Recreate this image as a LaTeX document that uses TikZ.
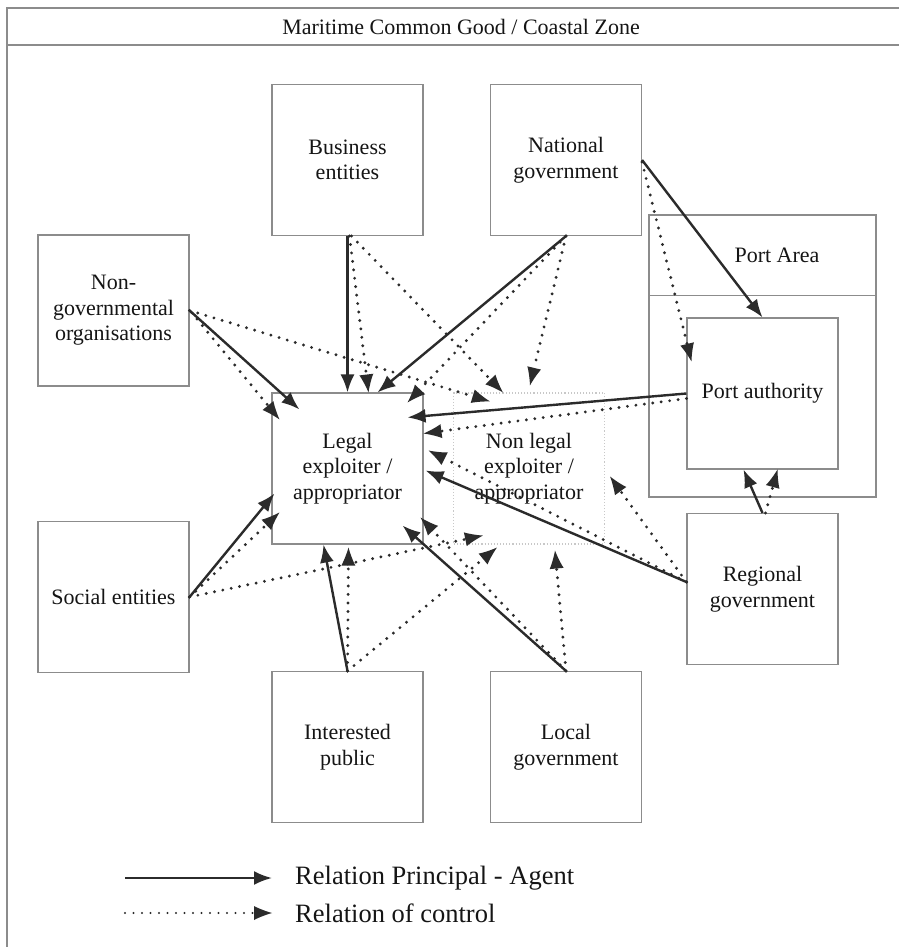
\documentclass[tikz,border=0pt]{standalone}
\usepackage{fontspec}
\setmainfont{Liberation Serif}
\usetikzlibrary{arrows.meta,calc}
\definecolor{boxgray}{HTML}{8C8C8C}
\definecolor{lightdot}{HTML}{C8C8C8}
\definecolor{arr}{HTML}{2B2B2B}
\definecolor{txt}{HTML}{151515}
\begin{document}
\begin{tikzpicture}[x=1pt,y=-1pt,
  box/.style={draw=boxgray,line width=1.1pt,minimum width=151pt,minimum height=151pt,
    align=center,inner sep=0pt,text=txt,font=\fontsize{22}{25.5}\selectfont},
  pa/.style={draw=arr,line width=2.4pt,-{Latex[length=18pt,width=14pt]}},
  ctl/.style={draw=arr,line width=3.2pt,line cap=round,dash pattern=on 0pt off 8.5pt,
    -{Latex[length=18pt,width=14pt,line width=0pt]}},
  lbl/.style={text=txt,inner sep=0pt}]
\useasboundingbox (0,0) rectangle (899,947);
\fill[white] (0,0) rectangle (899,947);
% frame
\coordinate (fbl) at (7,947);
\coordinate (ftl) at (7,8);
\coordinate (ftr) at (899,8);
\coordinate (fml) at (7,45);
\coordinate (fmr) at (899,45);
\draw[boxgray,line width=1.3pt] (fbl) -- (ftl) -- (ftr);
\draw[boxgray,line width=1.3pt] (fml) -- (fmr);
\node[lbl,font=\fontsize{22}{24}\selectfont] (title) at (461,27) {Maritime Common Good / Coastal Zone};
% port area
\node[draw=boxgray,line width=1.1pt,minimum width=227pt,minimum height=282pt,inner sep=0pt] (portarea) at (762.5,356) {};
\draw[boxgray,line width=1.1pt] ($(portarea.north west)+(0,81)$) -- ($(portarea.north east)+(0,81)$);
\node[lbl,font=\fontsize{22}{25.5}\selectfont] (portarealbl) at (777,255) {Port Area};
% boxes
\node[box] (bus) at (347.5,160) {Business\\entities};
\node[box] (nat) at (566,160) {National\\government};
\node[box] (ngo) at (113.5,310.5) {Non-\\governmental\\organisations};
\node[box] (legal) at (347.5,468.5) {Legal\\exploiter /\\appropriator};
\node[box,draw=lightdot,dotted] (nonlegal) at (529,468.5) {Non legal\\exploiter /\\appropriator};
\node[box] (social) at (113.5,597) {Social entities};
\node[box] (portauth) at (762.5,393.5) {Port authority};
\node[box] (regional) at (762.5,589) {Regional\\government};
\node[box] (interested) at (347.5,747) {Interested\\public};
\node[box] (local) at (566,747) {Local\\government};
% principal-agent relations
\draw[pa] (bus.south) -- (legal.north);
\draw[pa] (nat.south) -- ($(legal.north)+(30,0)$);
\draw[pa] (ngo.east) -- ($(legal.north west)+(28,17)$);
\draw[pa] (nat.east) -- (portauth.north);
\draw[pa] (portauth.west) -- ($(legal.north east)+(-16,25)$);
\draw[pa] ($(regional.west)+(0,-7)$) -- ($(legal.east)+(2,2)$);
\draw[pa] (local.north) -- ($(legal.south east)+(-21,-19)$);
\draw[pa] (interested.north) -- ($(legal.south)+(-24,0)$);
\draw[pa] (social.east) -- ($(legal.west)+(3,25)$);
\draw[pa] (regional.north) -- ($(portauth.south)+(-19,0)$);
% control relations
\draw[ctl] ($(ngo.east)+(2,2)$) -- ($(legal.north west)+(8,27)$);
\draw[ctl] (ngo.east) -- ($(nonlegal.north west)+(37,9)$);
\draw[ctl] ($(bus.south)+(2,0)$) -- ($(legal.north)+(21,0)$);
\draw[ctl] ($(bus.south)+(4,0)$) -- ($(nonlegal.north west)+(50,0)$);
\draw[ctl] (nat.south) -- ($(legal.north east)+(-16,10)$);
\draw[ctl] (nat.south) -- ($(nonlegal.north west)+(77,-7)$);
\draw[ctl] ($(nat.east)+(0,2)$) -- ($(portauth.north west)+(5,44)$);
\draw[ctl] ($(portauth.west)+(0,5)$) -- ($(legal.east)+(0,-35)$);
\draw[ctl] ($(regional.west)+(0,-7)$) -- ($(legal.east)+(5,-18)$);
\draw[ctl] ($(regional.west)+(0,-7)$) -- ($(nonlegal.east)+(5,8)$);
\draw[ctl] ($(regional.north)+(3,0)$) -- ($(portauth.south)+(15,0)$);
\draw[ctl] (local.north) -- ($(legal.south east)+(-3,-27)$);
\draw[ctl] (local.north) -- ($(nonlegal.south)+(26,6)$);
\draw[ctl] (interested.north) -- ($(legal.south)+(1,3)$);
\draw[ctl] (interested.north) -- ($(nonlegal.south west)+(44,3)$);
\draw[ctl] (social.east) -- ($(legal.west)+(8,44)$);
\draw[ctl] (social.east) -- ($(nonlegal.south west)+(30,-9)$);
% legend
\coordinate (l1s) at (125,878);
\coordinate (l1e) at (272,878);
\coordinate (l2s) at (125,913);
\coordinate (l2e) at (272,913);
\draw[pa] (l1s) -- (l1e);
\draw[ctl,line width=2.4pt] (l2s) -- (l2e);
\node[lbl,anchor=west,font=\fontsize{26.5}{30}\selectfont] (leg1) at (295,878) {Relation Principal - Agent};
\node[lbl,anchor=west,font=\fontsize{26.5}{30}\selectfont] (leg2) at (295,913) {Relation of control};
\end{tikzpicture}
\end{document}
